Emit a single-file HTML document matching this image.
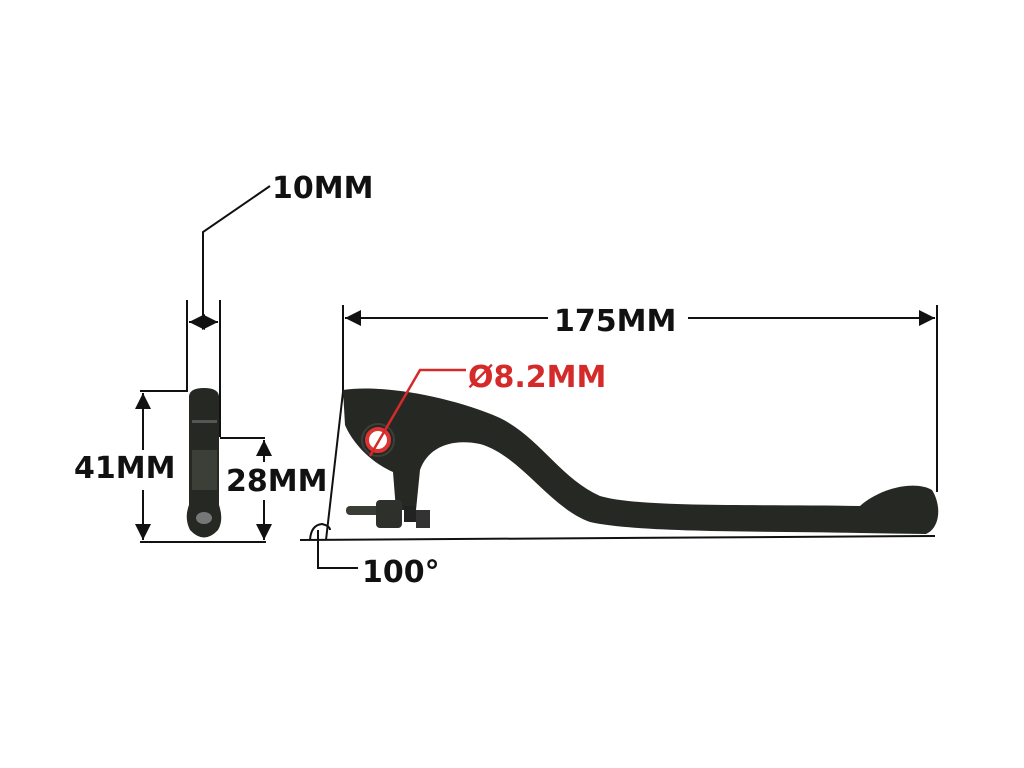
<!DOCTYPE html>
<html><head><style>
html,body{margin:0;padding:0;background:#fff;}
svg{display:block;}
text{font-family:"DejaVu Sans","Liberation Sans",sans-serif;font-weight:bold;}
</style></head><body>
<svg width="1024" height="768" viewBox="0 0 1024 768" xmlns="http://www.w3.org/2000/svg">
<defs>
<marker id="a" viewBox="0 0 10 10" refX="10" refY="5" markerWidth="8" markerHeight="8" orient="auto-start-reverse"><path d="M0,0 L10,5 L0,10 z" fill="#111"/></marker>
</defs>
<rect width="1024" height="768" fill="#fff"/>
<path d="M189,396 Q190,388 204,388 Q218,388 219,396 L219,505 Q224,520 218,530 Q204,545 190,530 Q184,518 189,505 Z" fill="#262823"/>
<rect x="192" y="420" width="25" height="3" fill="#555"/>
<rect x="192" y="450" width="25" height="40" fill="#3c3f38"/>
<ellipse cx="204" cy="518" rx="8" ry="6" fill="#777"/>
<g stroke="#111" stroke-width="2" fill="none">
<line x1="187" y1="300" x2="187" y2="390"/>
<line x1="220" y1="300" x2="220" y2="437"/>
<line x1="189" y1="322" x2="203" y2="322" marker-start="url(#a)"/>
<line x1="203" y1="322" x2="218" y2="322" marker-end="url(#a)"/>
<polyline points="203,322 203,232 270,186"/>
<line x1="140" y1="391" x2="188" y2="391"/>
<line x1="143" y1="393" x2="143" y2="450" marker-start="url(#a)"/>
<line x1="143" y1="490" x2="143" y2="540" marker-end="url(#a)"/>
<line x1="140" y1="542" x2="266" y2="542"/>
<line x1="220" y1="438" x2="265" y2="438"/>
<line x1="264" y1="440" x2="264" y2="462" marker-start="url(#a)"/>
<line x1="264" y1="500" x2="264" y2="540" marker-end="url(#a)"/>
<line x1="343" y1="305" x2="343" y2="392"/>
<line x1="937" y1="305" x2="937" y2="492"/>
<line x1="345" y1="318" x2="548" y2="318" marker-start="url(#a)"/>
<line x1="688" y1="318" x2="935" y2="318" marker-end="url(#a)"/>
<line x1="343" y1="392" x2="326" y2="540"/>
<line x1="300" y1="540" x2="935" y2="536"/>
<path d="M310,540 Q311,525 322,524 Q330,526 330,530"/>
<polyline points="318,530 318,568 358,568"/>
</g>
<path d="M343,390 C380,384 450,396 500,418 C540,438 560,478 600,496 C640,508 760,504 860,506 C880,488 915,480 932,490 C942,506 940,528 926,534 L860,533 C760,531 640,533 590,522 C550,508 520,455 480,444 C450,438 428,448 420,470 L416,510 L396,510 L393,472 C370,462 352,442 345,425 Z" fill="#262823"/>
<rect x="346" y="506" width="40" height="9" rx="4" fill="#3a3c36"/>
<rect x="376" y="500" width="26" height="28" rx="4" fill="#2e302b"/>
<rect x="404" y="506" width="12" height="16" fill="#222"/>
<rect x="416" y="510" width="14" height="18" fill="#333"/>
<circle cx="378" cy="440" r="16" fill="none" stroke="#3d3f39" stroke-width="2"/>
<circle cx="378" cy="440" r="11" fill="#fff" stroke="#d33" stroke-width="4"/>
<polyline points="370,456 420,370 466,370" stroke="#d42a2a" stroke-width="2.5" fill="none"/>
<text x="272" y="198" font-size="30" fill="#111">10MM</text>
<text x="74" y="478" font-size="30" fill="#111">41MM</text>
<text x="226" y="491" font-size="30" fill="#111">28MM</text>
<text x="554" y="331" font-size="30" fill="#111">175MM</text>
<text x="468" y="387" font-size="30" fill="#d42a2a">Ø8.2MM</text>
<text x="362" y="582" font-size="30" fill="#111">100°</text>
</svg>
</body></html>
